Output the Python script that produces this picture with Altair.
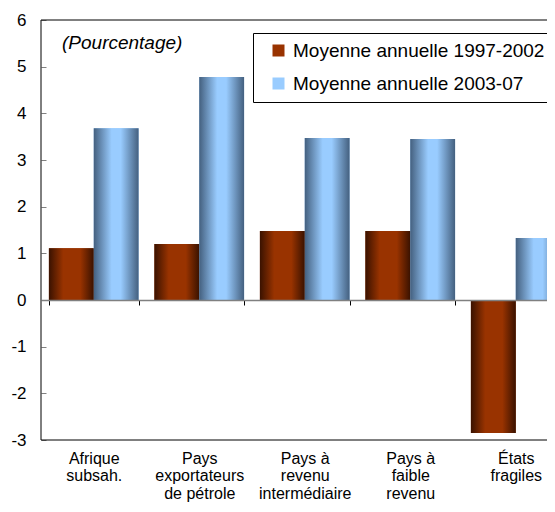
import altair as alt
import pandas as pd

categories = [
    "Afrique\nsubsah.",
    "Pays\nexportateurs\nde pétrole",
    "Pays à\nrevenu\nintermédiaire",
    "Pays à\nfaible\nrevenu",
    "États\nfragiles",
]
series = ["Moyenne annuelle 1997-2002", "Moyenne annuelle 2003-07"]
values_1997_2002 = [1.11, 1.20, 1.48, 1.48, -2.85]
values_2003_07 = [3.68, 4.78, 3.47, 3.45, 1.33]
y_ticks = [-3, -2, -1, 0, 1, 2, 3, 4, 5, 6]
note = "(Pourcentage)"

rows = []
for c, a, b in zip(categories, values_1997_2002, values_2003_07):
    rows.append({"cat": c, "series": series[0], "value": a})
    rows.append({"cat": c, "series": series[1], "value": b})
df = pd.DataFrame(rows)

FONT = "Liberation Sans"
BROWN = "#993300"
BLUE = "#99ccff"

brown_grad = alt.Gradient(
    gradient="linear", x1=0, x2=1, y1=0, y2=0,
    stops=[alt.GradientStop(color="#3a1200", offset=0),
           alt.GradientStop(color="#993300", offset=0.32),
           alt.GradientStop(color="#993300", offset=0.7),
           alt.GradientStop(color="#3a1200", offset=1)])
blue_grad = alt.Gradient(
    gradient="linear", x1=0, x2=1, y1=0, y2=0,
    stops=[alt.GradientStop(color="#44607f", offset=0),
           alt.GradientStop(color="#99ccff", offset=0.4),
           alt.GradientStop(color="#99ccff", offset=0.6),
           alt.GradientStop(color="#44607f", offset=1)])

x_enc = alt.X(
    "cat:N", sort=categories, title=None,
    scale=alt.Scale(range=[0, 527.5], paddingInner=0.15, paddingOuter=0.075),
    axis=alt.Axis(orient="bottom", offset=-140, domainColor="#808080", domainWidth=1.5,
                  tickColor="black", tickSize=5, tickBand="extent", labelAngle=0,
                  labelPadding=145, labelFont=FONT, labelFontSize=16, labelColor="black",
                  labelLineHeight=17.5, labelExpr="split(datum.label, '\\n')",
                  labelLimit=300, zindex=1))
xo_enc = alt.XOffset("series:N", sort=series, scale=alt.Scale(paddingInner=0, paddingOuter=0))
y_enc = alt.Y(
    "value:Q", title=None,
    scale=alt.Scale(domain=[-3, 6], nice=False, zero=False),
    axis=alt.Axis(values=y_ticks, offset=-5, domain=False, grid=False, tickSize=5,
                  tickColor="#808080", labelPadding=15, labelFont=FONT, labelFontSize=17,
                  labelColor="black", labelExpr="toString(datum.value)"))

base = alt.Chart(df)
solid = base.mark_bar().encode(
    x=x_enc, xOffset=xo_enc, y=y_enc,
    color=alt.Color("series:N", sort=series,
                    scale=alt.Scale(domain=series, range=[BROWN, BLUE]),
                    legend=alt.Legend(title=None, orient="none", legendX=212, legendY=13,
                                      strokeColor="black", fillColor="white", padding=8,
                                      symbolType="square", symbolSize=144, symbolStrokeWidth=0,
                                      symbolOffset=8, labelOffset=5, rowPadding=13,
                                      labelFont=FONT, labelFontSize=19, labelColor="black",
                                      labelLimit=400, cornerRadius=0)))
g1 = base.transform_filter(alt.datum.series == series[0]).mark_bar(color=brown_grad).encode(
    x=x_enc, xOffset=xo_enc, y=y_enc)
g2 = base.transform_filter(alt.datum.series == series[1]).mark_bar(color=blue_grad).encode(
    x=x_enc, xOffset=xo_enc, y=y_enc)

frame_h = alt.Chart(pd.DataFrame({"value": [6, -3]})).mark_rule(
    color="black", strokeWidth=1).encode(y=y_enc)
frame_l = alt.Chart(pd.DataFrame({"value": [0]})).mark_rule(
    color="black", strokeWidth=1).encode(x=alt.value(0))
txt = alt.Chart(pd.DataFrame({"t": [note]})).mark_text(
    align="left", baseline="middle", fontStyle="italic", fontSize=19, font=FONT,
    color="black").encode(x=alt.value(21), y=alt.value(22.5), text="t:N")

chart = alt.layer(solid, g1, g2, frame_h, frame_l, txt).properties(
    width=506, height=420,
    autosize=alt.AutoSizeParams(type="none"),
    padding={"left": 33, "top": 12, "right": 0, "bottom": 64},
).configure_view(strokeWidth=0)

chart.save("out.html", embed_options={"renderer": "svg", "actions": False})
